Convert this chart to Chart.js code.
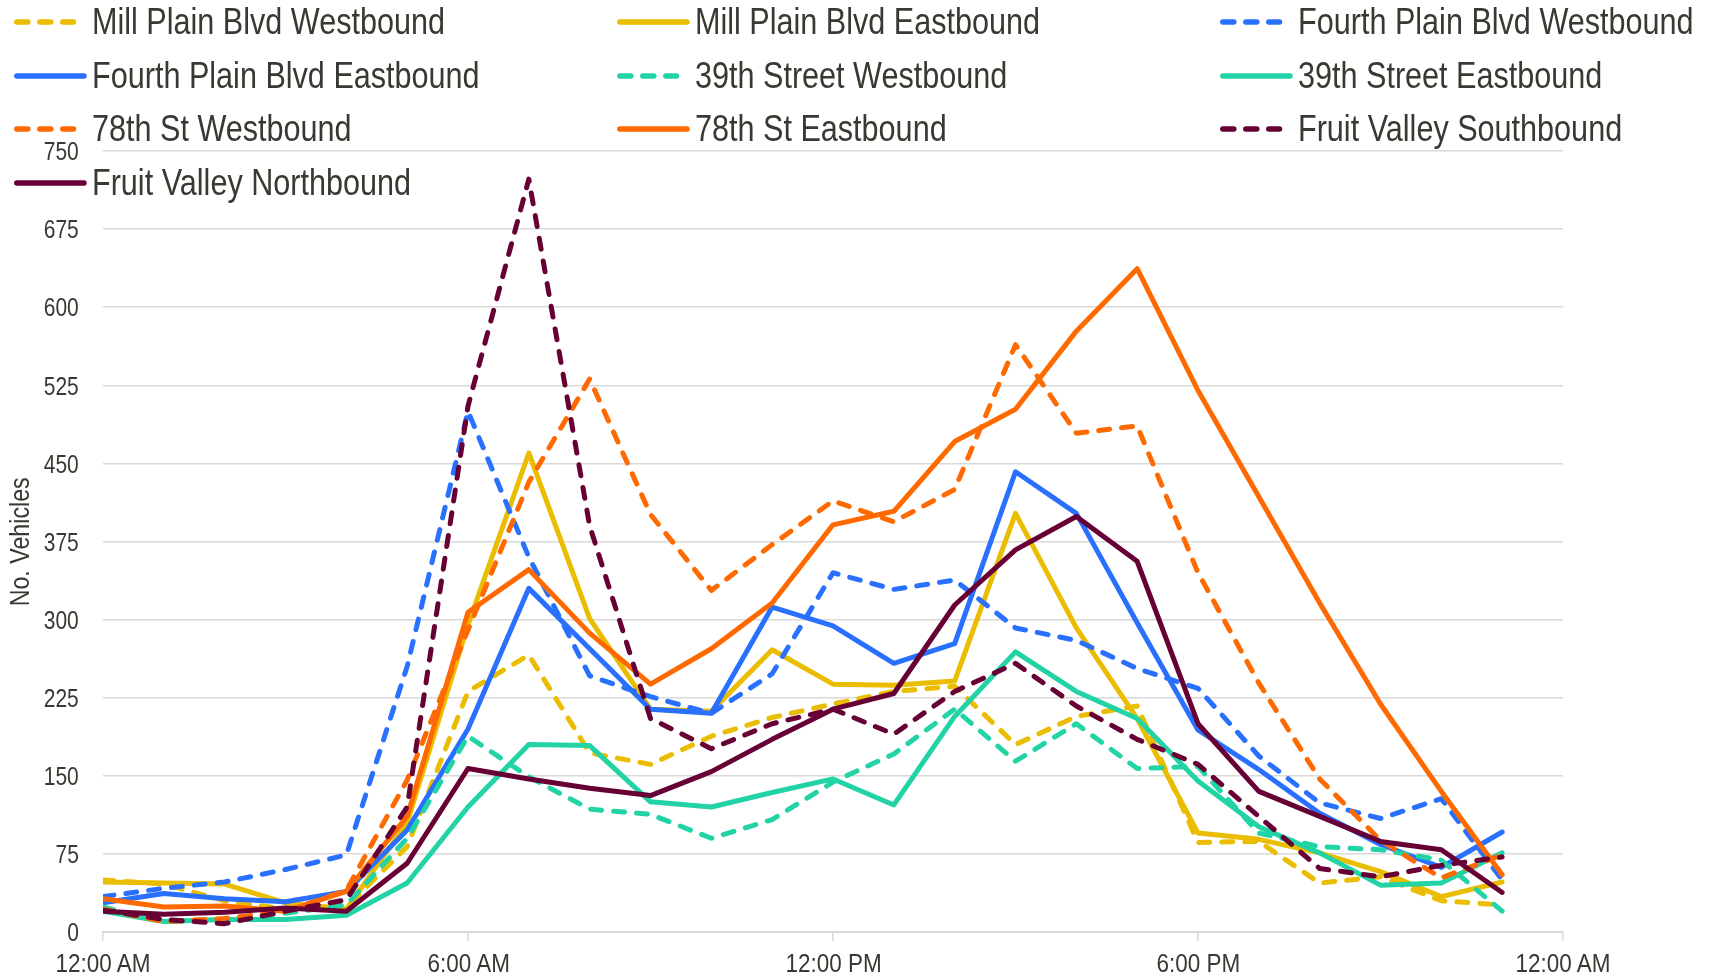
<!DOCTYPE html>
<html>
<head>
<meta charset="utf-8">
<script src="https://cdn.jsdelivr.net/npm/chart.js@4.4.1/dist/chart.umd.min.js"></script>
<style>
html,body{margin:0;padding:0;background:#fff;}
#wrap{position:relative;width:1713px;height:978px;overflow:hidden;background:#fff;}
#chart{position:absolute;left:0;top:0;}
#legendSvg{position:absolute;left:0;top:0;pointer-events:none;}
.lbl{position:absolute;font-family:'Liberation Sans',Arial,sans-serif;color:#3b3731;white-space:nowrap;line-height:1.2;}
</style>
</head>
<body>
<div id="wrap">
  <canvas id="chart" width="1713" height="978"></canvas>
  <svg id="legendSvg" width="1713" height="978"></svg>
</div>
<script>
// ---------------- DATA ----------------
const hours = [0,1,2,3,4,5,6,7,8,9,10,11,12,13,14,15,16,17,18,19,20,21,22,23];
const xTickLabels = ['12:00 AM','6:00 AM','12:00 PM','6:00 PM','12:00 AM'];
const yTickValues = [0,75,150,225,300,375,450,525,600,675,750];
const yAxisTitle = 'No. Vehicles';
const seriesNames = [
  'Mill Plain Blvd Westbound','Mill Plain Blvd Eastbound','Fourth Plain Blvd Westbound',
  'Fourth Plain Blvd Eastbound','39th Street Westbound','39th Street Eastbound',
  '78th St Westbound','78th St Eastbound','Fruit Valley Southbound','Fruit Valley Northbound'
];
const millPlainWB    = [50,46,30,22,24,82,231,266,172,161,188,206,219,231,236,180,207,217,86,87,47,53,30,26];
const millPlainEB    = [48,47,46,28,22,105,295,460,301,214,212,271,238,237,241,402,292,205,95,89,76,58,34,48];
const fourthPlainWB  = [34,42,48,60,74,255,500,360,246,226,210,248,345,329,338,292,280,253,234,169,124,109,128,50];
const fourthPlainEB  = [28,37,32,29,39,98,195,330,272,214,210,312,294,258,277,442,402,297,194,156,114,84,62,96];
const st39WB         = [24,10,12,18,26,90,188,149,118,113,90,108,144,171,214,164,200,157,159,95,82,79,69,20];
const st39EB         = [20,10,12,12,16,47,120,180,179,125,120,134,147,122,207,269,231,205,145,101,76,45,47,76];
const st78WB         = [22,10,13,20,40,146,290,432,531,401,328,372,414,394,425,564,479,486,345,239,147,88,52,74];
const st78EB         = [32,24,25,20,39,111,307,348,287,238,272,316,391,404,471,502,577,637,520,418,316,219,135,55];
const fruitValleySB  = [21,12,8,20,31,120,505,723,390,205,176,200,214,190,231,258,217,185,161,111,61,53,64,72];
const fruitValleyNB  = [20,17,19,23,20,66,157,147,138,131,154,185,214,229,314,367,399,356,200,135,111,87,79,38];
const seriesValues = [millPlainWB,millPlainEB,fourthPlainWB,fourthPlainEB,st39WB,st39EB,st78WB,st78EB,fruitValleySB,fruitValleyNB];

// ---------------- STYLE ----------------
const TEXT = '#3b3731';
const GRID = '#d9d9d9';
const seriesColors = ['#EBBD00','#EBBD00','#2970FF','#2970FF','#22D3A6','#22D3A6','#FF6A00','#FF6A00','#670034','#670034'];
const seriesDashed = [true,false,true,false,true,false,true,false,true,false];
const DASH = [11,12];
const LW = 5;

const datasets = seriesNames.map((name,i)=>({
  label: name,
  data: hours.map((h,j)=>({x:h, y:seriesValues[i][j]})),
  borderColor: seriesColors[i],
  backgroundColor: seriesColors[i],
  borderWidth: LW,
  borderDash: seriesDashed[i] ? DASH : [],
  borderCapStyle: 'round',
  borderJoinStyle: 'round',
  pointRadius: 0,
  pointHoverRadius: 0,
  tension: 0,
  fill: false,
  order: seriesNames.length - i
}));

const chart = new Chart(document.getElementById('chart'), {
  type: 'line',
  data: { datasets },
  options: {
    responsive: false,
    animation: false,
    devicePixelRatio: 1,
    layout: { padding: { left: 0, right: 150, top: 151, bottom: 0 } },
    plugins: { legend: { display: false }, tooltip: { enabled: false } },
    scales: {
      x: {
        type: 'linear',
        min: 0, max: 24,
        afterBuildTicks: (s)=>{ s.ticks = xTickLabels.map((_,k)=>({value:k*6})); },
        ticks: { display: false, autoSkip: false },
        grid: { drawOnChartArea: false, drawTicks: true, tickLength: 9, color: GRID, lineWidth: 1.5 },
        border: { display: true, color: GRID, width: 2 },
        afterFit: (s)=>{ s.height = 46; }
      },
      y: {
        min: 0, max: 750,
        afterBuildTicks: (s)=>{ s.ticks = yTickValues.map(v=>({value:v})); },
        ticks: { display: false },
        grid: { color: GRID, lineWidth: 1.5, drawTicks: false },
        border: { display: false },
        afterFit: (s)=>{ s.width = 103; }
      }
    }
  }
});

// ---------------- HTML TEXT (condensed look) ----------------
const wrap = document.getElementById('wrap');
function makeLabel(text, x, y, size, align, targetRefText, targetWidth, rotate){
  const d = document.createElement('div');
  d.className = 'lbl';
  d.style.fontSize = size + 'px';
  d.textContent = text;
  wrap.appendChild(d);
  const m = document.createElement('span');
  m.className = 'lbl';
  m.style.fontSize = size + 'px';
  m.style.visibility = 'hidden';
  m.textContent = targetRefText;
  wrap.appendChild(m);
  const k = targetWidth / m.getBoundingClientRect().width;
  wrap.removeChild(m);
  const W = d.offsetWidth, H = d.offsetHeight;
  const capMid = 0.5885 * size;
  if (rotate) {
    d.style.left = (x - W/2) + 'px';
    d.style.top = (y - H/2) + 'px';
    d.style.transformOrigin = '50% 50%';
    d.style.transform = 'rotate(-90deg) scaleX(' + k + ')';
    return;
  }
  d.style.top = (y - capMid) + 'px';
  if (align === 'center') { d.style.left = (x - W/2) + 'px'; d.style.transformOrigin = '50% 50%'; }
  else if (align === 'right') { d.style.left = (x - W) + 'px'; d.style.transformOrigin = '100% 50%'; }
  else { d.style.left = x + 'px'; d.style.transformOrigin = '0% 50%'; }
  d.style.transform = 'scaleX(' + k + ')';
}

const xs = chart.scales.x, ys = chart.scales.y, area = chart.chartArea;
xTickLabels.forEach((t,k)=> makeLabel(t, xs.getPixelForValue(k*6), 963, 26, 'center', '12:00 AM', 95));
yTickValues.forEach(v=> makeLabel(String(v), area.left - 24, ys.getPixelForValue(v), 25, 'right', '750', 35));
makeLabel(yAxisTitle, 20, (area.top + area.bottom)/2, 28, 'center', yAxisTitle, 129, true);

// ---------------- LEGEND ----------------
const colX = [14, 617, 1220];
const textOffset = 78;
const rowY = [22, 76, 129, 183];
const svg = document.getElementById('legendSvg');
seriesNames.forEach((name,i)=>{
  const c = i % 3, r = Math.floor(i/3);
  const sx = colX[c], cy = rowY[r];
  const line = document.createElementNS('http://www.w3.org/2000/svg','line');
  const x2 = seriesDashed[i] ? sx + 59.5 : sx + 70;
  line.setAttribute('x1', sx + 2.8);
  line.setAttribute('x2', x2);
  line.setAttribute('y1', cy); line.setAttribute('y2', cy);
  line.setAttribute('stroke', seriesColors[i]);
  line.setAttribute('stroke-width', 5.5);
  line.setAttribute('stroke-linecap', 'round');
  if (seriesDashed[i]) line.setAttribute('stroke-dasharray', DASH.join(' '));
  svg.appendChild(line);
  makeLabel(name, sx + textOffset, cy - 1, 36, 'left', 'Mill Plain Blvd Westbound', 353);
});
</script>
</body>
</html>
